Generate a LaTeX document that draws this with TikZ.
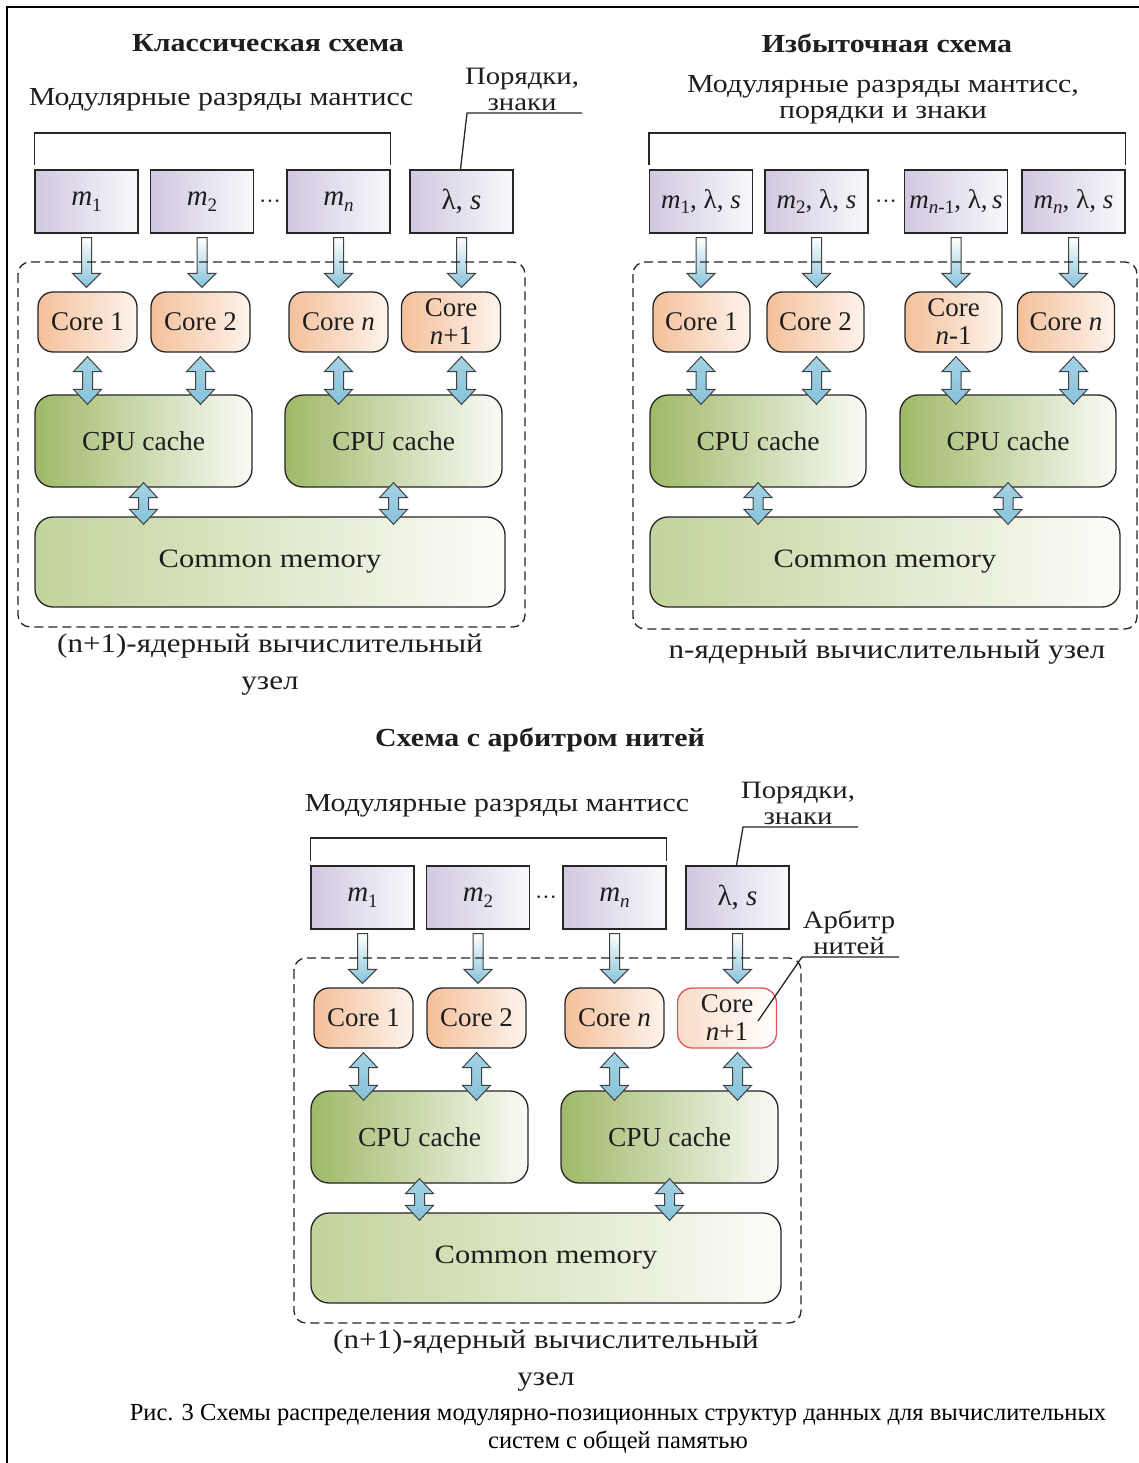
\documentclass[tikz,border=0pt]{standalone}
\usepackage{fontspec}
\setmainfont{Liberation Serif}
\newfontfamily\diafont[FakeStretch=1.15]{Liberation Serif}
\usetikzlibrary{calc}
\definecolor{lav}{HTML}{D0C8E0}
\definecolor{peach}{HTML}{F5C09A}
\definecolor{cachegreen}{HTML}{9FB968}
\definecolor{memgreen}{HTML}{C2D39B}
\definecolor{arrowblue}{HTML}{86C3DB}
\definecolor{redcore}{HTML}{E05555}
\definecolor{txt}{HTML}{1E1E1E}
\newcommand\fsz[2]{\fontsize{#1}{#2}\selectfont}
\newcommand\msub[1]{\raisebox{-0.22em}{\fsz{19}{19}#1}}
\tikzset{
  boxline/.style={draw=black!85, line width=1.3pt},
  mbox/.style={boxline, left color=lav, right color=lav!12, minimum width=103pt, minimum height=63pt, inner sep=0pt, text=txt, font=\fsz{29}{29}},
  mboxb/.style={mbox, minimum width=103pt, font=\fsz{27}{27}},
  corebox/.style={boxline, rounded corners=15pt, left color=peach, right color=peach!18, minimum width=99pt, minimum height=60pt, inner sep=0pt, align=center, text=txt, font=\fsz{27}{28}},
  cachebox/.style={boxline, rounded corners=18pt, left color=cachegreen, right color=cachegreen!6, minimum width=217pt, minimum height=92pt, inner sep=0pt, text=txt, font=\fsz{27.5}{27}},
  membox/.style={boxline, rounded corners=18pt, left color=memgreen, right color=memgreen!6, minimum width=470pt, minimum height=90pt, inner sep=0pt, text=txt, font=\diafont\fsz{26.5}{27}},
  blockarrow/.style={draw=black!75, line width=1pt, top color=white, bottom color=arrowblue},
  dblarrow/.style={draw=black!75, line width=1pt, top color=arrowblue!75, middle color=arrowblue!15, bottom color=arrowblue},
  nodebound/.style={draw=black!85, line width=1.3pt, dash pattern=on 9pt off 5pt, rounded corners=12pt},
  thinline/.style={draw=black!85, line width=1.3pt},
  lbl/.style={inner sep=0pt, text=txt, align=center, font=\diafont\fsz{26}{26}},
  lbltwo/.style={inner sep=0pt, text=txt, align=center, font=\diafont\fsz{25}{26}},
  foot/.style={inner sep=0pt, text=txt, align=center, font=\diafont\fsz{27}{37}},
  titletext/.style={inner sep=0pt, text=txt, font=\diafont\fsz{26}{26}\bfseries},
  dotstext/.style={inner sep=0pt, text=txt, font=\fsz{22}{22}},
  captiontext/.style={inner sep=0pt, align=center, font=\fsz{24.5}{28}}
}
% block arrow pointing down: #1 x node, #2 upper node, #3 lower node
\newcommand\blkdown[3]{%
  \path[blockarrow] let \p1=(#1.center), \p2=(#2.south), \p3=(#3.north) in
    (\x1-5pt,\y2-4pt) -- (\x1+5pt,\y2-4pt) -- (\x1+5pt,\y3+18pt) -- (\x1+14pt,\y3+18pt)
    -- (\x1,\y3+4pt) -- (\x1-14pt,\y3+18pt) -- (\x1-5pt,\y3+18pt) -- cycle;}
% double block arrow: #1 x node, #2 upper node, #3 lower node, #4 gap below upper, #5 depth into lower
\newcommand\blkdbl[5]{%
  \path[dblarrow] let \p1=(#1.center), \p2=(#2.south), \p3=(#3.north) in
    (\x1,{\y2-(#4)}) -- (\x1+14pt,{\y2-(#4)-15pt}) -- (\x1+5pt,{\y2-(#4)-15pt})
    -- (\x1+5pt,{\y3-(#5)+15pt}) -- (\x1+14pt,{\y3-(#5)+15pt}) -- (\x1,{\y3-(#5)})
    -- (\x1-14pt,{\y3-(#5)+15pt}) -- (\x1-5pt,{\y3-(#5)+15pt}) -- (\x1-5pt,{\y2-(#4)-15pt})
    -- (\x1-14pt,{\y2-(#4)-15pt}) -- cycle;}
% classic panel: #1 prefix, #2 #3 shift, #4 extra style of last core,
% #5 header y, #6 bracket top y, #7 underline y of the "Порядки" label
\newcommand\classicpanel[7]{%
\begin{scope}[shift={(#2,#3)}]
  \node[lbl] (#1hdr) at (221,#5) {Модулярные разряды мантисс};
  \node[mbox] (#1m1) at (86.5,201.5) {{\itshape m}\msub{1}};
  \node[mbox] (#1m2) at (202,201.5) {{\itshape m}\msub{2}};
  \node[dotstext] (#1dots) at (270,204) {···};
  \node[mbox] (#1mn) at (338.5,201.5) {{\itshape m}\msub{\itshape n}};
  \node[mbox] (#1ls) at (461.5,201.5) {λ, {\itshape s}};
  \path let \p1=(#1m1.north west), \p2=(0,#6) in
    coordinate (#1brl) at (\x1,\y2);
  \draw[thinline] ([yshift=4pt]#1m1.north west) -- (#1brl) -| ([yshift=4pt]#1mn.north east);
  \node[lbltwo, anchor=south] (#1ord) at (522,#7-2) {Порядки,\\знаки};
  \coordinate (#1ul) at (467,#7);
  \coordinate (#1ur) at (582,#7);
  \draw[thinline] ([xshift=-1pt]#1ls.north) -- (#1ul) -- (#1ur);
  \node[corebox] (#1c1) at (87.5,322) {Core 1};
  \node[corebox] (#1c2) at (200.5,322) {Core 2};
  \node[corebox] (#1cn) at (338.5,322) {Core {\itshape n}};
  \node[corebox,#4] (#1cx) at (451,322) {Core\\{\itshape n}+1};
  \node[cachebox] (#1k1) at (143.5,441) {CPU cache};
  \node[cachebox] (#1k2) at (393.5,441) {CPU cache};
  \node[membox] (#1mem) at (270,562) {Common memory};
  \blkdown{#1m1}{#1m1}{#1c1}
  \blkdown{#1m2}{#1m2}{#1c2}
  \blkdown{#1mn}{#1mn}{#1cn}
  \blkdown{#1ls}{#1ls}{#1cx}
  \blkdbl{#1c1}{#1c1}{#1k1}{4pt}{10pt}
  \blkdbl{#1c2}{#1c2}{#1k1}{4pt}{10pt}
  \blkdbl{#1cn}{#1cn}{#1k2}{4pt}{10pt}
  \blkdbl{#1ls}{#1cx}{#1k2}{4pt}{10pt}
  \blkdbl{#1k1}{#1k1}{#1mem}{-5pt}{8pt}
  \blkdbl{#1k2}{#1k2}{#1mem}{-5pt}{8pt}
  \draw[nodebound] (18,262) rectangle (525,627);
  \node[foot] (#1foot) at (270,665) {(n+1)-ядерный вычислительный\\узел};
\end{scope}}

\begin{document}
\begin{tikzpicture}[x=1pt,y=-1pt]
\useasboundingbox (0,0) rectangle (1139,1463);
\fill[white] (0,0) rectangle (1139,1463);
\draw[line width=2pt] (7,1463) -- (7,7) -- (1139,7);

% ---------- Panel A: classic ----------
\node[titletext] (tA) at (268,43) {Классическая схема};
\classicpanel{A}{0}{0}{}{100}{133}{113}

% ---------- Panel B: redundant ----------
\node[titletext] (tB) at (887,43) {Избыточная схема};
\node[lbl] (Bhdr) at (883,100) {Модулярные разряды мантисс,\\порядки и знаки};
\node[mboxb] (Bm1) at (701,201.5) {{\itshape m}\msub{1}, λ, {\itshape s}};
\node[mboxb] (Bm2) at (816.5,201.5) {{\itshape m}\msub{2}, λ, {\itshape s}};
\node[dotstext] (Bdots) at (886,204) {···};
\node[mboxb] (Bm3) at (956,201.5) {{\itshape m}\msub{{\itshape n}-1}, λ,\,{\itshape s}};
\node[mboxb] (Bm4) at (1073.5,201.5) {{\itshape m}\msub{\itshape n}, λ, {\itshape s}};
\path let \p1=(Bm1.north west), \p2=(0,133) in coordinate (Bbrl) at (\x1,\y2);
\draw[thinline] ([yshift=4pt]Bm1.north west) -- (Bbrl) -| ([yshift=4pt]Bm4.north east);
\node[corebox, minimum width=97pt] (Bc1) at (701.5,322) {Core 1};
\node[corebox, minimum width=97pt] (Bc2) at (815.5,322) {Core 2};
\node[corebox, minimum width=97pt] (Bc3) at (953.5,322) {Core\\{\itshape n}-1};
\node[corebox, minimum width=97pt] (Bc4) at (1066,322) {Core {\itshape n}};
\node[cachebox, minimum width=216pt] (Bk1) at (758,441) {CPU cache};
\node[cachebox, minimum width=216pt] (Bk2) at (1008,441) {CPU cache};
\node[membox] (Bmem) at (885,562) {Common memory};
\blkdown{Bm1}{Bm1}{Bc1}
\blkdown{Bm2}{Bm2}{Bc2}
\blkdown{Bm3}{Bm3}{Bc3}
\blkdown{Bm4}{Bm4}{Bc4}
\blkdbl{Bm1}{Bc1}{Bk1}{4pt}{10pt}
\blkdbl{Bm2}{Bc2}{Bk1}{4pt}{10pt}
\blkdbl{Bm3}{Bc3}{Bk2}{4pt}{10pt}
\blkdbl{Bm4}{Bc4}{Bk2}{4pt}{10pt}
\blkdbl{Bk1}{Bk1}{Bmem}{-5pt}{8pt}
\blkdbl{Bk2}{Bk2}{Bmem}{-5pt}{8pt}
\draw[nodebound] (633,262) rectangle (1137,629);
\node[lbl, font=\diafont\fsz{27}{27}] (Bfoot) at (887,652) {n-ядерный вычислительный узел};

% ---------- Panel C: thread arbiter ----------
\node[titletext] (tC) at (540,740) {Схема с арбитром нитей};
\classicpanel{C}{276}{696}{draw=redcore, left color=peach!55, right color=white}{110}{142}{131}
\node[lbltwo, anchor=south] (arb) at (849,955) {Арбитр\\нитей};
\coordinate (arbl) at (802,957);
\coordinate (arbr) at (899,957);
\draw[thinline] (arbr) -- (arbl) -- ([xshift=31pt,yshift=-3pt]Ccx.center);

% ---------- caption ----------
\node[captiontext] (cap) at (618,1429) {Рис. 3 Схемы распределения модулярно-позиционных структур данных для вычислительных\\систем с общей памятью};
\end{tikzpicture}
\end{document}
